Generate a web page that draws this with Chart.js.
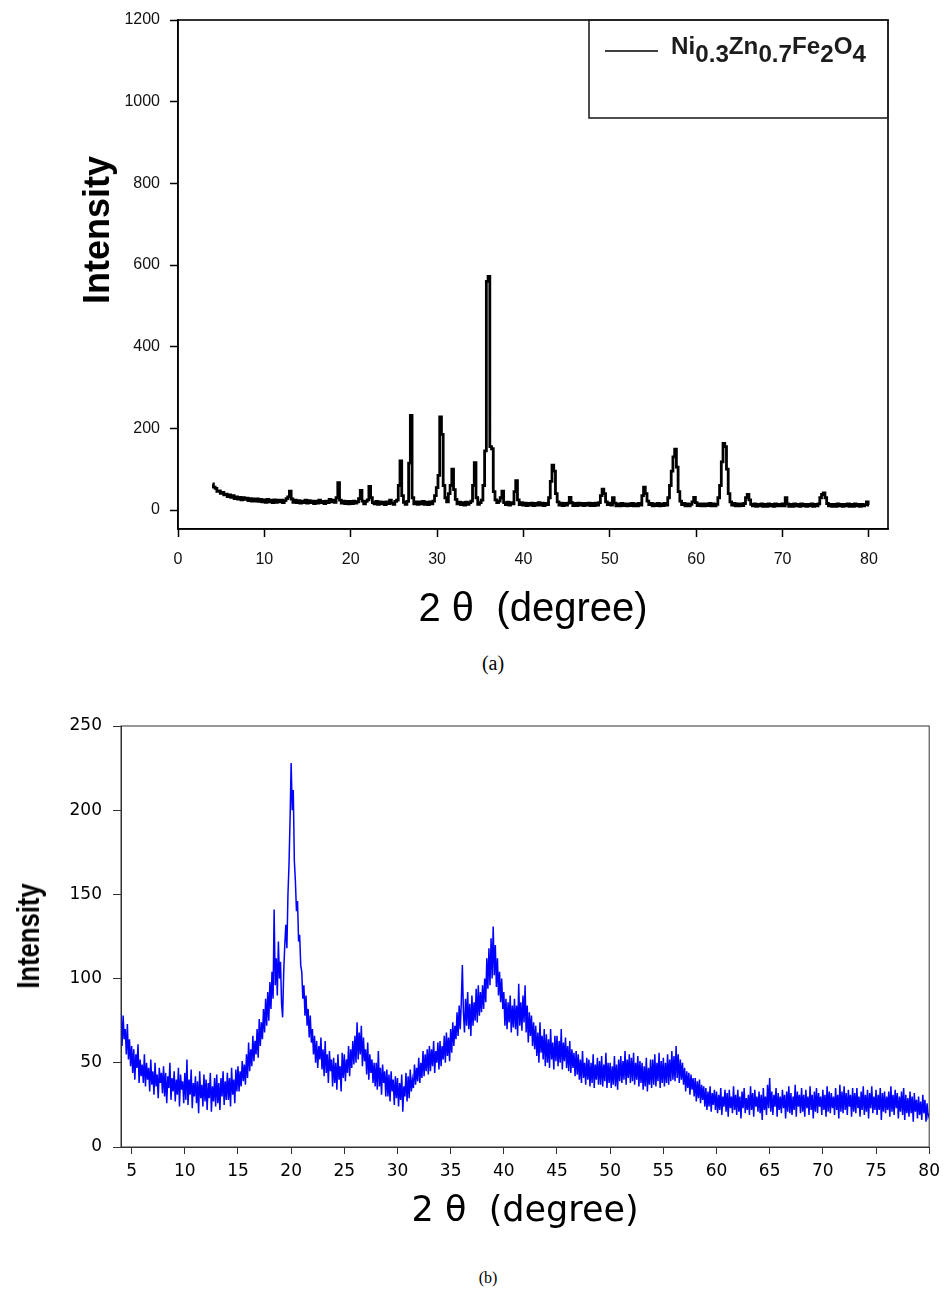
<!DOCTYPE html>
<html lang="en">
<head>
  <meta charset="UTF-8" />
  <meta name="viewport" content="width=device-width, initial-scale=1.0">
  <title>XRD patterns</title>
  <script src="https://cdn.jsdelivr.net/npm/chart.js"></script>
  <style>
    body { margin: 0; background: #fff; width: 947px; height: 1293px; position: relative; overflow: hidden; }
    .plot { position: absolute; left: 0; width: 947px; }
    #plotA { top: 0; height: 640px; }
    #plotB { top: 680px; height: 580px; }
    .ylab { position: absolute; white-space: nowrap; font-weight: bold; color: #000; line-height: 1; }
    .caption { position: absolute; transform: translate(-50%, -50%); font-family: 'Liberation Serif', 'Times New Roman', serif; color: #000; }
  </style>
</head>
<body>

  <div class="plot" id="plotA"><canvas id="chartA"></canvas></div>
  <div class="ylab" style="left:97px; top:230px; font-size:36px; font-family:'Liberation Sans', Arial, sans-serif; transform:translate(-50%,-50%) rotate(-90deg);">Intensity</div>
  <div class="caption" style="left:493px; top:663px; font-size:20px;">(a)</div>

  <div class="plot" id="plotB"><canvas id="chartB"></canvas></div>
  <div class="ylab" style="left:28px; top:936px; font-size:32px; font-family:'Liberation Sans', Arial, sans-serif; transform:translate(-50%,-50%) rotate(-90deg) scaleX(0.8);">Intensity</div>
  <div class="caption" style="left:488px; top:1278px; font-size:16px;">(b)</div>

  <script>
    // (a) Ni0.3Zn0.7Fe2O4, sampled every 0.2 deg from 4 deg, one row per 4 deg
    const thetaStartA = 4, thetaStepA = 0.2;
    const intensityA = [
      64, 56, 53, 46, 47,  41, 43, 37, 39, 33,  37, 31, 35, 28, 32,  27, 31, 25, 30, 26,
      29, 23, 28, 22, 27,  22, 27, 21, 26, 20,  25, 19, 26, 20, 24,  18, 25, 19, 24, 20,
      24, 18, 23, 28, 32,  46, 27, 19, 24, 18,  23, 17, 22, 18, 24,  17, 23, 18, 22, 16,
      22, 17, 24, 18, 21,  16, 22, 18, 26, 20,  24, 19, 30, 67, 24,  17, 22, 16, 21, 15,
      21, 16, 22, 17, 20,  28, 48, 22, 15, 21,  25, 58, 30, 18, 15,  21, 14, 20, 15, 19,
      13, 20, 16, 24, 17,  14, 21, 24, 60, 120, 35, 19, 14, 21, 115, 232, 30, 15, 20, 14,
      20, 15, 21, 14, 19,  13, 20, 15, 22, 35,  55, 85, 228, 185, 60, 30, 20, 40, 60, 100,
      50, 26, 15, 19, 13,  18, 12, 19, 14, 18,  22, 60, 116, 30, 14, 18, 24, 60, 145, 560,
      572, 155, 150, 45, 25, 18, 22, 30, 46, 18, 13, 19, 12, 18, 15,  45, 72, 25, 13, 18,
      12, 17, 11, 16, 12,  17, 11, 16, 12, 18,  12, 17, 11, 16, 13,  30, 70, 110, 95, 40,
      20, 12, 17, 11, 16,  12, 17, 31, 18, 11,  16, 11, 17, 12, 16,  11, 16, 12, 17, 11,
      16, 11, 17, 12, 18,  35, 51, 40, 20, 13,  17, 12, 30, 17, 10,  15, 10, 16, 11, 15,
      10, 15, 11, 16, 10,  15, 10, 16, 12, 35,  56, 40, 22, 13, 16,  10, 15, 11, 16, 10,
      15, 11, 16, 12, 30,  60, 95, 130, 149, 105, 45, 22, 13, 16, 10, 15, 10, 14, 20, 31,
      18, 11, 15, 10, 15,  10, 15, 11, 16, 10,  15, 10, 14, 30, 60,  118, 163, 155, 100, 40,
      20, 12, 16, 10, 15,  10, 15, 11, 16, 30,  38, 25, 14, 10, 15,  9, 14, 10, 15, 9,
      14, 9, 15, 10, 14,   9, 15, 10, 14, 10,   15, 10, 30, 15, 9,   14, 9, 15, 10, 14,
      9, 15, 10, 14, 9,    14, 10, 15, 9, 14,   10, 15, 30, 38, 42,  30, 16, 10, 14, 9,
      14, 9, 15, 10, 14,   9, 14, 10, 15, 9,    14, 9, 15, 10, 14,   9, 14, 10, 13, 20,
      12
    ];
    const xTicksA = [0, 10, 20, 30, 40, 50, 60, 70, 80];
    const yTicksA = [0, 200, 400, 600, 800, 1000, 1200];
    // legend text pieces: [text, isSubscript]
    const formulaA = [['Ni', 0], ['0.3', 1], ['Zn', 0], ['0.7', 1], ['Fe', 0], ['2', 1], ['O', 0], ['4', 1]];

    // (b) sampled every 0.1 deg from 4 deg, one row per degree
    const thetaStartB = 4, thetaStepB = 0.1;
    const intensityB = [
      80, 60, 78, 64, 70, 55, 73, 52, 64, 48,
      60, 44, 58, 40, 55, 47, 61, 38, 52, 42,
      49, 38, 55, 36, 50, 40, 47, 33, 52, 37,
      45, 31, 50, 36, 43, 29, 47, 38, 44, 32,
      48, 30, 44, 26, 42, 35, 50, 28, 41, 33,
      45, 27, 40, 31, 47, 24, 43, 34, 39, 26,
      44, 28, 52, 25, 40, 31, 46, 23, 38, 30,
      42, 26, 39, 20, 45, 29, 37, 24, 43, 27,
      40, 22, 38, 29, 44, 21, 36, 27, 41, 24,
      43, 26, 38, 22, 41, 30, 45, 25, 39, 28,
      44, 28, 41, 24, 47, 31, 40, 26, 46, 33,
      48, 33, 45, 36, 51, 39, 49, 37, 55, 41,
      62, 45, 58, 48, 66, 51, 63, 55, 70, 53,
      76, 60, 74, 64, 82, 68, 88, 72, 92, 75,
      98, 82, 104, 88, 141, 96, 112, 90, 122, 100,
      110, 85, 77, 104, 120, 132, 118, 150, 168, 195,
      228, 200, 212, 170, 158, 140, 146, 122, 126, 108,
      104, 88, 96, 78, 90, 72, 82, 65, 78, 62,
      70, 55, 66, 50, 63, 47, 60, 52, 65, 46,
      58, 42, 63, 44, 55, 38, 57, 45, 52, 36,
      53, 38, 50, 34, 55, 40, 48, 33, 56, 41,
      55, 39, 52, 44, 60, 42, 58, 47, 63, 49,
      66, 50, 74, 52, 68, 55, 72, 48, 65, 51,
      58, 43, 62, 40, 55, 44, 52, 38, 50, 36,
      50, 34, 57, 36, 47, 31, 49, 38, 45, 30,
      46, 30, 43, 27, 45, 33, 40, 25, 42, 29,
      41, 24, 38, 28, 43, 21, 36, 30, 44, 27,
      42, 29, 46, 33, 40, 35, 49, 37, 47, 39,
      53, 38, 50, 41, 57, 42, 55, 45, 58, 43,
      60, 45, 58, 48, 63, 44, 57, 50, 62, 46,
      63, 48, 60, 52, 66, 50, 68, 54, 65, 51,
      70, 56, 74, 60, 72, 64, 80, 66, 84, 70,
      86, 108, 80, 68, 88, 72, 92, 70, 85, 66,
      90, 72, 86, 75, 94, 74, 96, 78, 92, 80,
      96, 82, 100, 86, 112, 94, 118, 96, 124, 100,
      131, 102, 120, 95, 112, 90, 104, 86, 100, 82,
      92, 72, 88, 70, 86, 74, 90, 68, 84, 71,
      88, 70, 84, 66, 97, 72, 86, 69, 90, 74,
      96, 68, 84, 62, 80, 66, 78, 60, 74, 58,
      72, 54, 68, 50, 74, 56, 66, 52, 70, 48,
      67, 50, 64, 47, 70, 52, 62, 46, 66, 51,
      66, 48, 63, 50, 70, 46, 62, 51, 65, 47,
      60, 45, 63, 44, 58, 47, 56, 42, 57, 43,
      55, 40, 52, 38, 57, 41, 50, 37, 53, 40,
      52, 36, 50, 38, 55, 35, 49, 40, 53, 37,
      51, 37, 54, 36, 49, 39, 56, 35, 50, 38,
      50, 35, 48, 37, 54, 36, 49, 34, 52, 39,
      54, 38, 51, 40, 57, 37, 52, 41, 55, 38,
      53, 39, 56, 37, 50, 40, 54, 36, 51, 38,
      50, 34, 48, 36, 53, 33, 47, 37, 52, 35,
      52, 37, 55, 36, 50, 39, 56, 35, 51, 38,
      53, 36, 50, 38, 55, 37, 52, 39, 57, 40,
      54, 39, 60, 41, 55, 38, 52, 40, 50, 37,
      47, 33, 45, 35, 44, 31, 43, 34, 41, 30,
      41, 27, 39, 29, 40, 26, 37, 28, 36, 24,
      35, 22, 33, 24, 36, 21, 32, 25, 34, 22,
      33, 20, 31, 22, 35, 19, 30, 24, 34, 21,
      32, 18, 34, 23, 30, 20, 36, 22, 31, 19,
      34, 21, 30, 17, 33, 23, 35, 20, 29, 22,
      31, 19, 36, 22, 32, 18, 34, 24, 30, 21,
      33, 20, 31, 16, 35, 22, 30, 19, 37, 23,
      41, 21, 33, 19, 31, 24, 35, 18, 32, 22,
      30, 20, 34, 23, 31, 17, 33, 21, 36, 20,
      32, 19, 30, 22, 37, 18, 33, 24, 31, 20,
      35, 21, 31, 18, 34, 23, 30, 19, 36, 22,
      31, 17, 33, 21, 35, 20, 32, 24, 30, 19,
      34, 22, 31, 18, 36, 21, 33, 20, 32, 23,
      30, 19, 35, 22, 31, 17, 37, 21, 33, 20,
      36, 22, 32, 19, 34, 24, 31, 18, 35, 21,
      32, 20, 35, 23, 30, 18, 33, 22, 36, 19,
      31, 21, 34, 17, 32, 23, 36, 20, 30, 22,
      34, 19, 31, 22, 35, 16, 32, 21, 33, 20,
      30, 22, 33, 18, 36, 21, 31, 19, 34, 23,
      32, 17, 30, 21, 33, 19, 35, 16, 31, 20,
      29, 18, 33, 20, 30, 15, 32, 21, 28, 17,
      30, 19, 27, 16, 31, 20, 28, 15, 26, 18,
      20
    ];
    const xTicksB = [5, 10, 15, 20, 25, 30, 35, 40, 45, 50, 55, 60, 65, 70, 75, 80];
    const yTicksB = [0, 50, 100, 150, 200, 250];

    function toPoints(start, step, values) {
      return values.map((y, i) => ({ x: +(start + i * step).toFixed(2), y }));
    }

    // box round the whole plot area
    const frame = {
      id: 'frame',
      afterDraw(chart, args, opts) {
        const { ctx, chartArea: a } = chart;
        ctx.save();
        ctx.strokeStyle = opts.color;
        ctx.lineWidth = opts.width;
        ctx.strokeRect(a.left, a.top, a.right - a.left, a.bottom - a.top);
        ctx.restore();
      }
    };

    // legend box in the top right corner, formula with lowered subscripts
    const formulaLegend = {
      id: 'formulaLegend',
      afterDraw(chart) {
        const { ctx, chartArea: a } = chart;
        const right = a.right, top = a.top, left = right - 299, bottom = top + 98;
        ctx.save();
        ctx.strokeStyle = '#222';
        ctx.lineWidth = 1.6;
        ctx.strokeRect(left, top, right - left, bottom - top);

        ctx.beginPath();
        ctx.moveTo(left + 16, top + 31);
        ctx.lineTo(left + 69, top + 31);
        ctx.lineWidth = 1.5;
        ctx.strokeStyle = '#000';
        ctx.stroke();

        ctx.font = 'bold 23px "Liberation Sans", Arial, sans-serif';
        ctx.fillStyle = '#1c1c1c';
        ctx.textBaseline = 'alphabetic';
        const total = formulaA.reduce((w, [t]) => w + ctx.measureText(t).width, 0);
        ctx.translate(left + 82, 0);
        ctx.scale(195 / total, 1);
        let x = 0;
        formulaA.forEach(([t, sub]) => {
          ctx.fillText(t, x, top + (sub ? 42 : 34));
          x += ctx.measureText(t).width;
        });
        ctx.restore();
      }
    };

    const sans = "'Liberation Sans', Arial, sans-serif";
    const wide = "'DejaVu Sans', Verdana, sans-serif";

    new Chart(document.getElementById('chartA'), {
      type: 'line',
      data: {
        datasets: [{
          label: 'Ni0.3Zn0.7Fe2O4',
          data: toPoints(thetaStartA, thetaStepA, intensityA),
          borderColor: '#000',
          borderWidth: 2.8,
          pointRadius: 0,
          stepped: 'middle'
        }]
      },
      options: {
        responsive: true,
        maintainAspectRatio: false,
        animation: false,
        layout: { padding: { top: 20, right: 59, left: 0, bottom: 0 } },
        scales: {
          x: {
            type: 'linear', min: 0, max: 82.2,
            afterBuildTicks: s => { s.ticks = xTicksA.map(v => ({ value: v })); },
            afterFit: s => { s.height = 111; },
            grid: { drawOnChartArea: false, tickLength: 8, tickColor: '#000', tickWidth: 1.5 },
            border: { color: '#000', width: 1.5 },
            ticks: { font: { family: sans, size: 16 }, color: '#111', padding: 13, maxRotation: 0, callback: v => String(v) },
            title: { display: true, text: '2 θ  (degree)', font: { family: sans, size: 40 }, color: '#000', padding: { top: 0, bottom: 6 } }
          },
          y: {
            min: -46.5, max: 1200,
            afterBuildTicks: s => { s.ticks = yTicksA.map(v => ({ value: v })); },
            afterFit: s => { s.width = 178; },
            grid: { drawOnChartArea: false, tickLength: 8, tickColor: '#000', tickWidth: 1.5 },
            border: { color: '#000', width: 1.5 },
            ticks: { font: { family: sans, size: 16 }, color: '#111', padding: 10, callback: v => String(v) }
          }
        },
        plugins: {
          legend: { display: false },
          tooltip: { enabled: false },
          frame: { color: '#000', width: 1.6 }
        }
      },
      plugins: [frame, formulaLegend]
    });

    new Chart(document.getElementById('chartB'), {
      type: 'line',
      data: {
        datasets: [{
          label: 'Intensity',
          data: toPoints(thetaStartB, thetaStepB, intensityB),
          borderColor: '#0000ff',
          borderWidth: 1.5,
          pointRadius: 0,
          tension: 0
        }]
      },
      options: {
        responsive: true,
        maintainAspectRatio: false,
        animation: false,
        layout: { padding: { top: 46, right: 16, left: 0, bottom: 0 } },
        scales: {
          x: {
            type: 'linear', min: 4, max: 80,
            afterBuildTicks: s => { s.ticks = xTicksB.map(v => ({ value: v })); },
            afterFit: s => { s.height = 113; },
            grid: { drawOnChartArea: false, tickLength: 7, tickColor: '#333', tickWidth: 1 },
            border: { color: '#333', width: 1 },
            ticks: { font: { family: wide, size: 17 }, color: '#000', padding: 7, maxRotation: 0, callback: v => String(v) },
            title: { display: true, text: '2 θ  (degree)', font: { family: wide, size: 35 }, color: '#000', padding: { top: 0, bottom: 27 } }
          },
          y: {
            min: 0, max: 250,
            afterBuildTicks: s => { s.ticks = yTicksB.map(v => ({ value: v })); },
            afterFit: s => { s.width = 121; },
            grid: { drawOnChartArea: false, tickLength: 8, tickColor: '#333', tickWidth: 1 },
            border: { color: '#333', width: 1 },
            ticks: { font: { family: wide, size: 17 }, color: '#000', padding: 11, callback: v => String(v) }
          }
        },
        plugins: {
          legend: { display: false },
          tooltip: { enabled: false },
          frame: { color: '#333', width: 1 }
        }
      },
      plugins: [frame]
    });
  </script>
</body>
</html>
